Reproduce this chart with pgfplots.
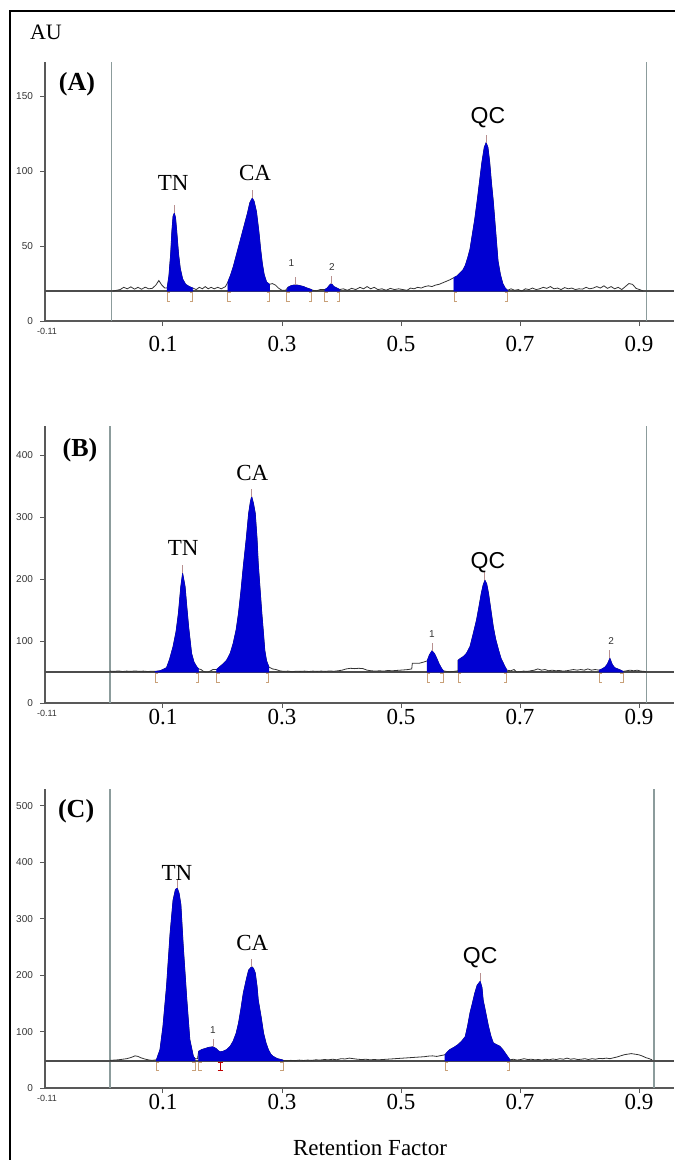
\documentclass[border=0pt]{standalone}
\usepackage{fontspec}
\setmainfont{Liberation Serif}
\newfontfamily\arial{Liberation Sans}
\usepackage{pgfplots}
\pgfplotsset{compat=1.18}
\definecolor{peakblue}{RGB}{0,0,210}
\definecolor{brkcol}{HTML}{C8A078}
\definecolor{apxcol}{HTML}{B89090}
\definecolor{vlinecol}{HTML}{8C9C9C}

\tikzset{
  brk/.style={draw=brkcol, line width=0.45pt},
  apx/.style={draw=apxcol, line width=0.45pt},
}
\newcommand{\lbr}[2]{\draw[brk] (axis cs:#1,#2) ++(1.5pt,-0.6pt) -- ++(-1.5pt,0pt) -- ++(0pt,-4.4pt) -- ++(1.5pt,0pt);}
\newcommand{\rbr}[2]{\draw[brk] (axis cs:#1,#2) ++(-1.5pt,-0.6pt) -- ++(1.5pt,0pt) -- ++(0pt,-4.4pt) -- ++(-1.5pt,0pt);}
\newcommand{\apex}[2]{\draw[apx] (axis cs:#1,#2) -- ++(0pt,4pt);}

\pgfplotsset{
  chrom/.style={
    scale only axis, width=314.5pt,
    xmin=-0.0983, xmax=0.9588, ymin=0,
    clip=false,
    axis lines=left,
    axis line style={-, draw=black!65, line width=0.6pt},
    tick style={draw=black!65, line width=0.5pt},
    major tick length=2.5pt, tick align=outside,
    xtick={0.1,0.3,0.5,0.7,0.9},
    xticklabels={0.1,0.3,0.5,0.7,0.9},
    xticklabel style={font=\fontsize{11.5}{12}\selectfont},
    yticklabel style={font=\arial\fontsize{5}{6}\selectfont, text=black!80},
  },
  vline/.style={draw=vlinecol, line width=0.6pt},
  base/.style={draw=black!70, line width=0.6pt},
  trace/.style={draw=black!80, line width=0.4pt},
  peak/.style={draw=peakblue, fill=peakblue, line width=0.3pt},
}

\begin{document}
\begin{tikzpicture}

% ---------------- (A) ----------------
\begin{axis}[chrom, at={(22.5pt,-160.5pt)}, anchor=south west,
  height=129.5pt, ymax=173,
  ytick={0,50,100,150}, yticklabels={0,50,100,150},
  xticklabel style={yshift=-1.5pt}]
\addplot[vline] coordinates {(0.014,0) (0.014,173)};
\addplot[vline] coordinates {(0.913,0) (0.913,173)};
\addplot[base] coordinates {(-0.0983,20) (0.9588,20)};
\addplot[trace] coordinates {
(0.016,20) (0.022,20.5) (0.028,21) (0.034,22.5) (0.040,21.5) (0.046,22.8) (0.052,21.3) (0.058,22.5)
(0.064,21.2) (0.070,22.6) (0.076,21.5) (0.082,21.8) (0.088,24) (0.093,27) (0.098,24) (0.103,22) (0.107,22)
(0.110,30) (0.113,45) (0.115,60) (0.117,70) (0.119,72) (0.121,69) (0.123,60) (0.126,45) (0.129,35)
(0.133,28) (0.138,24.5) (0.144,23) (0.150,22)
(0.156,21) (0.161,22.5) (0.166,21.5) (0.171,23) (0.176,21.5) (0.181,22.5) (0.186,21.5) (0.192,22.5)
(0.198,21.5) (0.205,23) (0.209,26)
(0.213,30) (0.218,36) (0.224,45) (0.230,54) (0.236,63) (0.242,72) (0.246,79) (0.250,82) (0.253,80)
(0.257,73) (0.261,60) (0.264,48) (0.267,38) (0.270,31) (0.274,26) (0.279,24.5)
(0.284,25) (0.289,24) (0.294,22) (0.300,20.5) (0.306,20.5)
(0.310,22.5) (0.315,23.5) (0.320,24) (0.325,24) (0.330,23.6) (0.336,23) (0.342,22) (0.348,21.2) (0.352,20.5)
(0.358,20.2) (0.364,21) (0.372,21)
(0.376,22) (0.380,24) (0.383,25) (0.387,23) (0.392,22) (0.397,21)
(0.403,21.5) (0.410,20.5) (0.417,21.8) (0.424,21) (0.431,22.5) (0.437,21.5) (0.443,23) (0.449,21.5)
(0.455,22.5) (0.461,21) (0.468,21.5) (0.475,20.5) (0.482,21.8) (0.489,21) (0.496,21.5) (0.503,21)
(0.510,20.5) (0.516,22) (0.522,21.5) (0.528,22.5) (0.534,22) (0.540,23) (0.546,23.5) (0.552,23)
(0.558,24) (0.564,24.5) (0.570,25.5) (0.576,26.5) (0.582,27.5) (0.589,29)
(0.594,30) (0.599,32) (0.604,34) (0.608,37) (0.612,42) (0.616,48) (0.620,58) (0.624,68) (0.628,80)
(0.632,93) (0.636,106) (0.640,116) (0.643,119) (0.646,116) (0.649,106) (0.652,92) (0.655,80) (0.659,60)
(0.663,40) (0.667,31) (0.671,25) (0.675,22) (0.679,20.5)
(0.685,21.5) (0.691,20.5) (0.697,21) (0.703,20) (0.709,21.5) (0.715,21) (0.721,22) (0.727,21)
(0.733,21.5) (0.739,22.5) (0.745,21.8) (0.751,23) (0.757,21.5) (0.763,22) (0.769,21) (0.775,22.3)
(0.781,21.5) (0.787,22) (0.793,21) (0.799,21.5) (0.805,21.3) (0.811,22.5) (0.817,21.5) (0.823,22)
(0.829,23) (0.835,22) (0.841,23.5) (0.847,21.8) (0.853,23) (0.859,21.5) (0.865,22.5) (0.871,21)
(0.877,23) (0.883,25) (0.889,24.5) (0.895,21.8) (0.901,21) (0.907,20)
};
% filled peaks
\addplot[peak] coordinates {(0.107,20) (0.107,22) (0.110,30) (0.113,45) (0.115,60) (0.117,70) (0.119,72)
 (0.121,69) (0.123,60) (0.126,45) (0.129,35) (0.133,28) (0.138,24.5) (0.144,23) (0.150,22) (0.150,20)} -- cycle;
\addplot[peak] coordinates {(0.209,20) (0.209,26) (0.213,30) (0.218,36) (0.224,45) (0.230,54) (0.236,63)
 (0.242,72) (0.246,79) (0.250,82) (0.253,80) (0.257,73) (0.261,60) (0.264,48) (0.267,38) (0.270,31)
 (0.274,26) (0.279,24.5) (0.279,20)} -- cycle;
\addplot[peak] coordinates {(0.308,20) (0.310,22.5) (0.315,23.5) (0.320,24) (0.325,24) (0.330,23.6)
 (0.336,23) (0.342,22) (0.348,21.2) (0.350,20.8) (0.350,20)} -- cycle;
\addplot[peak] coordinates {(0.372,20) (0.372,21) (0.376,22) (0.380,24) (0.383,25) (0.387,23) (0.392,22)
 (0.397,21) (0.397,20)} -- cycle;
\addplot[peak] coordinates {(0.589,20) (0.589,29) (0.594,30) (0.599,32) (0.604,34) (0.608,37) (0.612,42)
 (0.616,48) (0.620,58) (0.624,68) (0.628,80) (0.632,93) (0.636,106) (0.640,116) (0.643,119) (0.646,116)
 (0.649,106) (0.652,92) (0.655,80) (0.659,60) (0.663,40) (0.667,31) (0.671,25) (0.675,22) (0.679,20.5)
 (0.679,20)} -- cycle;
\lbr{0.107}{20}\rbr{0.150}{20}
\lbr{0.209}{20}\rbr{0.279}{20}
\lbr{0.308}{20}\rbr{0.350}{20}
\lbr{0.372}{20}\rbr{0.397}{20}
\lbr{0.589}{20}\rbr{0.679}{20}
\apex{0.119}{72}\apex{0.250}{82}\apex{0.322}{24}\apex{0.383}{25}\apex{0.643}{119}
\node[font=\fontsize{11.5}{12}\selectfont] at (axis cs:0.117,92) {TN};
\node[font=\fontsize{11.5}{12}\selectfont] at (axis cs:0.2546,98.7) {CA};
\node[font=\arial\fontsize{11.5}{12}\selectfont] at (axis cs:0.646,136) {QC};
\node[font=\arial\fontsize{5}{6}\selectfont, text=black!80] at (axis cs:0.316,38.7) {1};
\node[font=\arial\fontsize{5}{6}\selectfont, text=black!80] at (axis cs:0.384,36) {2};
\node[font=\bfseries\fontsize{13}{14}\selectfont] at (axis cs:-0.0445,158) {(A)};
\node[font=\arial\fontsize{4.5}{5}\selectfont, anchor=north, text=black!80, xshift=1pt, yshift=-0.3pt] at (axis cs:-0.0983,0) {-0.11};
\end{axis}

% ---------------- (B) ----------------
\begin{axis}[chrom, at={(22.5pt,-351.5pt)}, anchor=south west,
  height=138.5pt, ymax=447,
  ytick={0,100,200,300,400}, yticklabels={0,100,200,300,400},
  xticklabel style={yshift=3pt}]
\addplot[vline] coordinates {(0.011,0) (0.011,447)};
\addplot[vline] coordinates {(0.912,0) (0.912,447)};
\addplot[base] coordinates {(-0.0983,50) (0.9588,50)};
\addplot[trace] coordinates {
(0.011,51.5) (0.018,51) (0.025,51.8) (0.032,50.8) (0.039,51.5) (0.046,51) (0.053,51.8) (0.060,51)
(0.067,51.5) (0.074,50.8) (0.081,51.2) (0.087,51)
(0.095,52) (0.100,54) (0.106,57) (0.111,70) (0.117,91) (0.122,115) (0.126,145) (0.130,188) (0.133,209)
(0.137,188) (0.140,155) (0.143,123) (0.148,80) (0.152,66) (0.157,58) (0.160,55)
(0.164,54) (0.168,51) (0.172,50) (0.176,50) (0.180,52) (0.184,54) (0.190,54)
(0.196,59) (0.201,63) (0.207,69) (0.213,80) (0.218,96) (0.223,118) (0.227,145) (0.231,180) (0.235,220)
(0.240,265) (0.244,306) (0.247,325) (0.249,333) (0.252,322) (0.255,306) (0.258,265) (0.260,225)
(0.263,185) (0.266,145) (0.269,110) (0.271,85) (0.274,68) (0.278,58)
(0.284,55) (0.290,54) (0.296,52) (0.303,51) (0.310,51.5) (0.317,50.5) (0.324,51.3) (0.331,51)
(0.338,51.5) (0.345,50.8) (0.352,51.5) (0.359,51) (0.366,51.5) (0.373,51) (0.380,51.8) (0.387,51.2)
(0.394,52) (0.401,53) (0.408,55) (0.415,56) (0.422,55.5) (0.429,56) (0.436,55.5) (0.443,53) (0.450,52)
(0.457,51.5) (0.464,52) (0.471,51.5) (0.478,52.5) (0.485,52) (0.492,52.5) (0.499,53) (0.506,53.5)
(0.512,54) (0.518,55) (0.519,64) (0.530,64) (0.538,66) (0.544,68)
(0.548,78) (0.552,84) (0.556,80) (0.560,72) (0.564,63) (0.568,56) (0.571,52)
(0.576,51) (0.582,50.5) (0.589,51) (0.596,52)
(0.596,69) (0.600,72) (0.605,75) (0.610,80) (0.616,91) (0.621,110) (0.627,134) (0.631,155) (0.635,177)
(0.638,190) (0.641,198) (0.644,192) (0.647,177) (0.651,150) (0.655,123) (0.659,103) (0.664,85)
(0.668,72) (0.672,64) (0.675,58) (0.678,53)
(0.684,52) (0.690,54) (0.694,50) (0.700,50.5) (0.706,51.5) (0.712,51) (0.718,52) (0.724,53) (0.730,55)
(0.736,53) (0.742,54) (0.748,52) (0.754,53) (0.760,52) (0.766,52.5) (0.772,51.5) (0.778,52) (0.784,53)
(0.790,54) (0.796,53) (0.802,54) (0.808,53) (0.814,55) (0.820,53) (0.826,54) (0.833,53)
(0.838,55) (0.843,58) (0.847,63) (0.851,72) (0.855,62) (0.859,57) (0.864,55) (0.869,53) (0.873,51)
(0.879,52) (0.885,53) (0.891,52) (0.897,53) (0.903,51.5) (0.909,51) (0.912,50)
};
\addplot[peak] coordinates {(0.087,50) (0.087,51) (0.095,52) (0.100,54) (0.106,57) (0.111,70) (0.117,91)
 (0.122,115) (0.126,145) (0.130,188) (0.133,209) (0.137,188) (0.140,155) (0.143,123) (0.148,80)
 (0.152,66) (0.157,58) (0.160,55) (0.160,50)} -- cycle;
\addplot[peak] coordinates {(0.190,50) (0.190,54) (0.196,59) (0.201,63) (0.207,69) (0.213,80) (0.218,96)
 (0.223,118) (0.227,145) (0.231,180) (0.235,220) (0.240,265) (0.244,306) (0.247,325) (0.249,333)
 (0.252,322) (0.255,306) (0.258,265) (0.260,225) (0.263,185) (0.266,145) (0.269,110) (0.271,85)
 (0.274,68) (0.278,58) (0.278,50)} -- cycle;
\addplot[peak] coordinates {(0.544,50) (0.544,68) (0.548,78) (0.552,84) (0.556,80) (0.560,72) (0.564,63)
 (0.568,56) (0.571,52) (0.571,50)} -- cycle;
\addplot[peak] coordinates {(0.596,50) (0.596,69) (0.600,72) (0.605,75) (0.610,80) (0.616,91) (0.621,110)
 (0.627,134) (0.631,155) (0.635,177) (0.638,190) (0.641,198) (0.644,192) (0.647,177) (0.651,150)
 (0.655,123) (0.659,103) (0.664,85) (0.668,72) (0.672,64) (0.675,58) (0.678,53) (0.678,50)} -- cycle;
\addplot[peak] coordinates {(0.833,50) (0.833,53) (0.838,55) (0.843,58) (0.847,63) (0.851,72) (0.855,62)
 (0.859,57) (0.864,55) (0.869,53) (0.873,51) (0.873,50)} -- cycle;
\lbr{0.087}{50}\rbr{0.160}{50}
\lbr{0.190}{50}\rbr{0.278}{50}
\lbr{0.544}{50}\rbr{0.571}{50}
\lbr{0.596}{50}\rbr{0.678}{50}
\lbr{0.833}{50}\rbr{0.873}{50}
\apex{0.133}{209}\apex{0.249}{333}\apex{0.552}{84}\apex{0.641}{198}\apex{0.851}{72}
\node[font=\fontsize{11.5}{12}\selectfont] at (axis cs:0.134,250) {TN};
\node[font=\fontsize{11.5}{12}\selectfont] at (axis cs:0.25,371) {CA};
\node[font=\arial\fontsize{11.5}{12}\selectfont] at (axis cs:0.646,226) {QC};
\node[font=\arial\fontsize{5}{6}\selectfont, text=black!80] at (axis cs:0.552,111) {1};
\node[font=\arial\fontsize{5}{6}\selectfont, text=black!80] at (axis cs:0.853,100) {2};
\node[font=\bfseries\fontsize{13}{14}\selectfont] at (axis cs:-0.0395,408) {(B)};
\node[font=\arial\fontsize{4.5}{5}\selectfont, anchor=north, text=black!80, xshift=1pt, yshift=-0.3pt] at (axis cs:-0.0983,0) {-0.11};
\end{axis}

% ---------------- (C) ----------------
\begin{axis}[chrom, at={(22.5pt,-544pt)}, anchor=south west,
  height=149.5pt, ymax=530,
  ytick={0,100,200,300,400,500}, yticklabels={0,100,200,300,400,500},
  xticklabel style={yshift=3pt}]
\addplot[vline] coordinates {(0.011,0) (0.011,530)};
\addplot[vline] coordinates {(0.925,0) (0.925,530)};
\addplot[base] coordinates {(-0.0983,48) (0.9588,48)};
\addplot[trace] coordinates {
(0.011,49) (0.018,49.5) (0.025,50) (0.032,51) (0.039,52) (0.046,54) (0.053,57) (0.058,56) (0.063,53.5)
(0.069,51.5) (0.075,50) (0.081,49) (0.089,50)
(0.095,68) (0.100,109) (0.106,180) (0.112,274) (0.117,333) (0.121,352) (0.124,354) (0.127,345)
(0.130,325) (0.134,251) (0.140,156) (0.145,86) (0.151,56) (0.154,52)
(0.158,52) (0.160,65)
(0.165,68) (0.171,70) (0.177,72) (0.184,73) (0.189,70) (0.193,66) (0.196,64)
(0.201,65) (0.207,68) (0.213,74) (0.218,83) (0.223,97) (0.227,115) (0.231,140) (0.235,168) (0.240,192)
(0.244,209) (0.249,215) (0.252,212) (0.255,204) (0.258,180) (0.260,156) (0.265,125) (0.269,97)
(0.273,80) (0.277,68) (0.281,60) (0.285,56) (0.292,52) (0.300,50) (0.302,49)
(0.308,48.5) (0.315,49) (0.322,48.5) (0.329,49.5) (0.336,48.8) (0.343,49.5) (0.350,49) (0.357,50)
(0.364,49.5) (0.371,50.5) (0.378,50) (0.385,51) (0.392,50) (0.399,52) (0.406,51.5) (0.413,53)
(0.420,52) (0.427,51) (0.434,50.5) (0.441,51) (0.448,50) (0.455,50.5) (0.462,50) (0.469,50.5)
(0.476,51) (0.483,51.5) (0.490,52) (0.497,52.5) (0.504,53) (0.511,53.5) (0.518,54) (0.525,54.5)
(0.532,55) (0.539,55.5) (0.546,56.5) (0.553,57) (0.560,56) (0.567,57.5) (0.574,59)
(0.578,64) (0.582,68) (0.589,72) (0.596,77) (0.602,83) (0.608,91) (0.612,110) (0.616,133) (0.620,150)
(0.624,168) (0.628,182) (0.633,189) (0.636,178) (0.638,156) (0.643,130) (0.647,109) (0.651,92)
(0.655,80) (0.660,77) (0.666,74) (0.671,68) (0.675,62) (0.679,56) (0.683,50)
(0.689,51) (0.695,49.5) (0.701,50.5) (0.707,52) (0.713,50.5) (0.719,51) (0.725,50) (0.731,50.5)
(0.737,49.5) (0.743,51) (0.749,50) (0.755,51.5) (0.761,50.5) (0.767,52) (0.773,51) (0.779,53)
(0.785,51) (0.791,52) (0.797,50.5) (0.803,51) (0.809,52) (0.815,50.5) (0.821,52) (0.827,51)
(0.833,52.5) (0.839,52) (0.845,53) (0.851,52) (0.857,53.5) (0.863,55) (0.869,57) (0.875,59)
(0.881,60) (0.887,61) (0.893,60) (0.899,59) (0.905,57) (0.911,54) (0.917,52) (0.922,50)
};
\addplot[peak] coordinates {(0.089,48) (0.089,50) (0.095,68) (0.100,109) (0.106,180) (0.112,274)
 (0.117,333) (0.121,352) (0.124,354) (0.127,345) (0.130,325) (0.134,251) (0.140,156) (0.145,86)
 (0.151,56) (0.154,52) (0.154,48)} -- cycle;
\addplot[peak] coordinates {(0.160,48) (0.160,65) (0.165,68) (0.171,70) (0.177,72) (0.184,73) (0.189,70)
 (0.193,66) (0.196,64) (0.196,48)} -- cycle;
\addplot[peak] coordinates {(0.196,48) (0.196,64) (0.201,65) (0.207,68) (0.213,74) (0.218,83) (0.223,97)
 (0.227,115) (0.231,140) (0.235,168) (0.240,192) (0.244,209) (0.249,215) (0.252,212) (0.255,204)
 (0.258,180) (0.260,156) (0.265,125) (0.269,97) (0.273,80) (0.277,68) (0.281,60) (0.285,56) (0.292,52)
 (0.300,50) (0.302,49) (0.302,48)} -- cycle;
\addplot[peak] coordinates {(0.574,48) (0.574,59) (0.578,64) (0.582,68) (0.589,72) (0.596,77) (0.602,83)
 (0.608,91) (0.612,110) (0.616,133) (0.620,150) (0.624,168) (0.628,182) (0.633,189) (0.636,178)
 (0.638,156) (0.643,130) (0.647,109) (0.651,92) (0.655,80) (0.660,77) (0.666,74) (0.671,68) (0.675,62)
 (0.679,56) (0.683,50) (0.683,48)} -- cycle;
\lbr{0.089}{48}\rbr{0.154}{48}
\lbr{0.160}{48}
\draw[draw=red!75!black, line width=0.5pt] (axis cs:0.196,48) ++(-1.3pt,-0.6pt) -- ++(2.6pt,0pt)
  ++(-1.3pt,0pt) -- ++(0pt,-4.4pt) ++(-1.3pt,0pt) -- ++(2.6pt,0pt);
\rbr{0.302}{48}
\lbr{0.574}{48}\rbr{0.683}{48}
\apex{0.124}{354}\apex{0.184}{73}\apex{0.249}{215}\apex{0.633}{189}
\node[font=\fontsize{11.5}{12}\selectfont] at (axis cs:0.1235,381) {TN};
\node[font=\fontsize{11.5}{12}\selectfont] at (axis cs:0.25,257) {CA};
\node[font=\arial\fontsize{11.5}{12}\selectfont] at (axis cs:0.633,231) {QC};
\node[font=\arial\fontsize{5}{6}\selectfont, text=black!80] at (axis cs:0.184,103) {1};
\node[font=\bfseries\fontsize{13}{14}\selectfont] at (axis cs:-0.046,490) {(C)};
\node[font=\arial\fontsize{4.5}{5}\selectfont, anchor=north, text=black!80, xshift=1pt, yshift=-0.3pt] at (axis cs:-0.0983,0) {-0.11};
\end{axis}

\node[font=\fontsize{11}{12}\selectfont] at (23pt,-16pt) {AU};
\node[font=\fontsize{11.5}{12}\selectfont] at (185pt,-574pt) {Retention Factor};
\draw[line width=1.3pt] (5pt,-5.5pt) rectangle (345pt,-592pt);

\pgfresetboundingbox
\useasboundingbox (0pt,0pt) rectangle (337pt,-580pt);
\end{tikzpicture}
\end{document}
